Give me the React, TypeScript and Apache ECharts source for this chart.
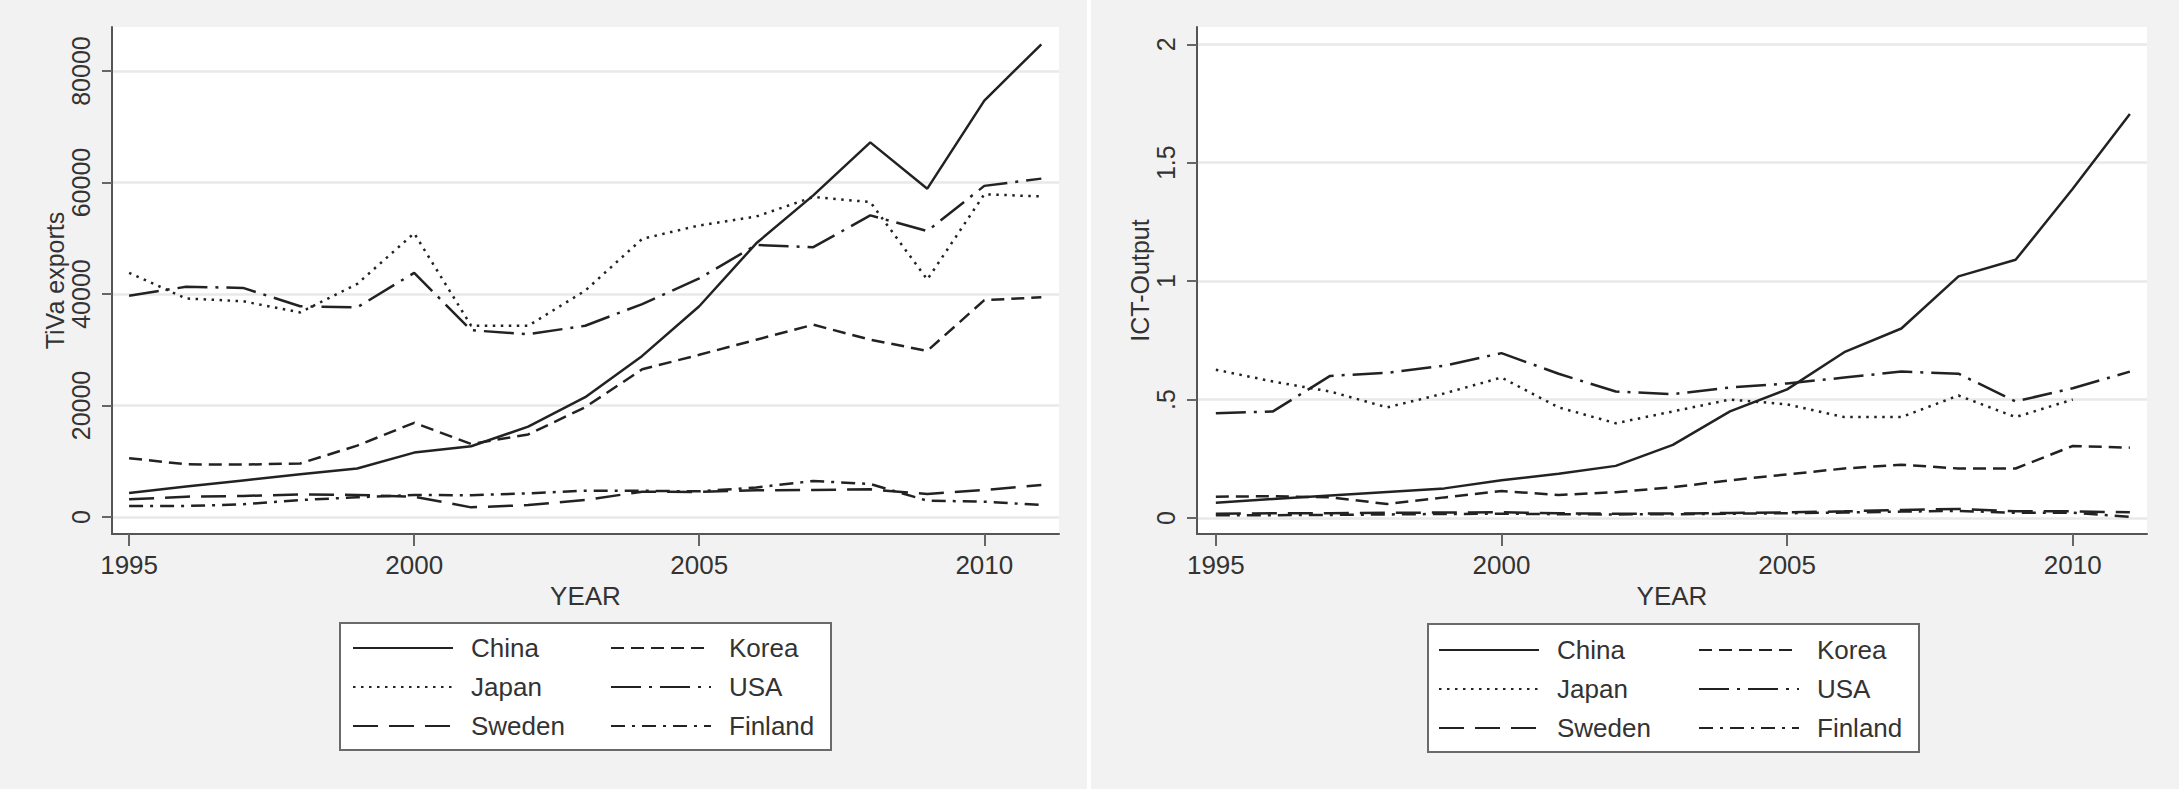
import React, { useEffect, useRef } from "react";
import * as echarts from "echarts";

const years = [1995, 1996, 1997, 1998, 1999, 2000, 2001, 2002, 2003, 2004, 2005, 2006, 2007, 2008, 2009, 2010, 2011];
const countries = ["China", "Korea", "Japan", "USA", "Sweden", "Finland"];

// Panel 1: TiVa exports
const tivaChina = [4300, 5450, 6550, 7650, 8700, 11550, 12700, 16200, 21500, 28900, 37800, 49100, 57700, 67200, 58900, 74700, 84800];
const tivaKorea = [10550, 9450, 9400, 9600, 12800, 16900, 13100, 14800, 19700, 26500, 29100, 31800, 34500, 31800, 29800, 38900, 39400];
const tivaJapan = [43800, 39200, 38700, 36700, 41800, 50900, 34300, 34300, 40600, 49900, 52300, 53900, 57400, 56500, 42600, 57900, 57500];
const tivaUSA = [39700, 41300, 41100, 37800, 37600, 43800, 33500, 32800, 34300, 38200, 42800, 48800, 48400, 54100, 51300, 59400, 60700];
const tivaSweden = [3170, 3650, 3770, 4060, 3950, 3650, 1730, 2150, 3050, 4540, 4500, 4800, 4840, 4960, 4120, 4840, 5740];
const tivaFinland = [1970, 1970, 2270, 3050, 3530, 3950, 3890, 4250, 4720, 4700, 4600, 5300, 6460, 5920, 2930, 2750, 2150];

// Panel 2: ICT-Output
const ictChina = [0.064, 0.08, 0.095, 0.11, 0.125, 0.159, 0.187, 0.22, 0.309, 0.45, 0.543, 0.7, 0.8, 1.02, 1.09, 1.39, 1.706];
const ictKorea = [0.09, 0.092, 0.087, 0.059, 0.087, 0.114, 0.097, 0.109, 0.13, 0.159, 0.184, 0.209, 0.225, 0.209, 0.209, 0.304, 0.297];
const ictJapan = [0.626, 0.576, 0.534, 0.467, 0.526, 0.593, 0.467, 0.4, 0.45, 0.5, 0.48, 0.426, 0.426, 0.517, 0.426, 0.5, null];
const ictUSA = [0.442, 0.45, 0.6, 0.613, 0.643, 0.696, 0.609, 0.534, 0.523, 0.551, 0.568, 0.593, 0.618, 0.609, 0.492, 0.548, 0.618];
const ictSweden = [0.018, 0.02, 0.02, 0.022, 0.023, 0.024, 0.02, 0.018, 0.019, 0.021, 0.024, 0.028, 0.034, 0.038, 0.028, 0.028, 0.024];
const ictFinland = [0.012, 0.012, 0.013, 0.015, 0.017, 0.018, 0.016, 0.015, 0.016, 0.018, 0.02, 0.023, 0.027, 0.03, 0.022, 0.022, 0.005];

const xTicks = [1995, 2000, 2005, 2010];
const leftYTicks = [0, 20000, 40000, 60000, 80000];
const rightYTicks = [0, 0.5, 1, 1.5, 2];
const rightYTickLabels = ["0", ".5", "1", "1.5", "2"];

const FONT = '"Liberation Sans", Arial, Helvetica, sans-serif';
const LINE = "#222";
const TXT = "#333";

const dashes: Record<string, any> = {
  China: "solid",
  Korea: [13, 7],
  Japan: [2.5, 5.5],
  USA: [30, 8, 3, 8],
  Sweden: [25, 11],
  Finland: [14, 7, 3, 7],
};

const panelData: Record<string, (number | null)[]>[] = [
  { China: tivaChina, Korea: tivaKorea, Japan: tivaJapan, USA: tivaUSA, Sweden: tivaSweden, Finland: tivaFinland },
  { China: ictChina, Korea: ictKorea, Japan: ictJapan, USA: ictUSA, Sweden: ictSweden, Finland: ictFinland },
];

export default function App() {
  const ref = useRef<HTMLDivElement>(null);
  useEffect(() => {
    if (!ref.current) return;
    const chart = echarts.init(ref.current, undefined, { renderer: "svg" });

    const series: any[] = [];
    panelData.forEach((pd, p) => {
      countries.forEach((c) => {
        series.push({
          type: "line",
          name: c,
          xAxisIndex: p,
          yAxisIndex: p,
          data: years.map((y, i) => [y, pd[c][i]]),
          symbol: "none",
          showSymbol: false,
          connectNulls: false,
          silent: true,
          z: 3,
          lineStyle: { color: LINE, width: 2.5, type: dashes[c] },
          itemStyle: { color: LINE },
        });
      });
    });

    const xAxisCommon = (grid: number, min: number, max: number) => ({
      type: "value",
      gridIndex: grid,
      min,
      max,
      name: "YEAR",
      nameLocation: "middle",
      nameGap: 46,
      nameTextStyle: { fontSize: 26, color: TXT, fontFamily: FONT },
      axisLine: { show: true, onZero: false, lineStyle: { color: "#555", width: 2 } },
      axisTick: { show: true, length: 12, customValues: xTicks, lineStyle: { color: "#666", width: 2 } },
      axisLabel: { customValues: xTicks, fontSize: 26, color: TXT, fontFamily: FONT, margin: 18, formatter: (v: number) => String(v) },
      splitLine: { show: false },
    });

    const legendCommon = (left: number, top: number, data: string[]) => ({
      orient: "vertical",
      left,
      top,
      padding: 0,
      itemWidth: 100,
      itemHeight: 14,
      itemGap: 13,
      selectedMode: false,
      z: 5,
      data,
      itemStyle: { opacity: 0, borderWidth: 0 },
      textStyle: { fontSize: 26, lineHeight: 26, color: TXT, fontFamily: FONT, padding: [0, 0, 0, 13] },
    });

    chart.setOption({
      animation: false,
      backgroundColor: "#f2f2f2",
      textStyle: { fontFamily: FONT },
      graphic: [
        { type: "rect", shape: { x: 1087, y: 0, width: 4, height: 789 }, style: { fill: "#ffffff" }, silent: true },
        { type: "rect", z: 1, shape: { x: 340, y: 623, width: 491, height: 127 }, style: { fill: "#fff", stroke: "#6a6a6a", lineWidth: 2 }, silent: true },
        { type: "rect", z: 1, shape: { x: 1428, y: 624, width: 491, height: 128 }, style: { fill: "#fff", stroke: "#6a6a6a", lineWidth: 2 }, silent: true },
      ],
      grid: [
        { left: 112, top: 27, width: 947, height: 507, show: true, backgroundColor: "#fff", borderWidth: 0 },
        { left: 1197, top: 27, width: 950, height: 507, show: true, backgroundColor: "#fff", borderWidth: 0 },
      ],
      xAxis: [xAxisCommon(0, 1994.7, 2011.31), xAxisCommon(1, 1994.67, 2011.3)],
      yAxis: [
        {
          type: "value",
          gridIndex: 0,
          min: -3050,
          max: 87900,
          name: "TiVa exports",
          nameLocation: "middle",
          nameGap: 43,
          nameTextStyle: { fontSize: 25, color: TXT, fontFamily: FONT },
          axisLine: { show: true, onZero: false, lineStyle: { color: "#555", width: 2 } },
          axisTick: { show: true, length: 10, customValues: leftYTicks, lineStyle: { color: "#666", width: 2 } },
          axisLabel: { customValues: leftYTicks, rotate: 90, margin: 19, fontSize: 25, color: TXT, fontFamily: FONT, formatter: (v: number) => String(v) },
          splitLine: { show: true, lineStyle: { color: "#e9e9e9", width: 2.5 } },
        },
        {
          type: "value",
          gridIndex: 1,
          min: -0.0676,
          max: 2.073,
          name: "ICT-Output",
          nameLocation: "middle",
          nameGap: 43,
          nameTextStyle: { fontSize: 25, color: TXT, fontFamily: FONT },
          axisLine: { show: true, onZero: false, lineStyle: { color: "#555", width: 2 } },
          axisTick: { show: true, length: 10, customValues: rightYTicks, lineStyle: { color: "#666", width: 2 } },
          axisLabel: {
            customValues: rightYTicks,
            rotate: 90,
            margin: 19,
            fontSize: 25,
            color: TXT,
            fontFamily: FONT,
            formatter: (v: number) => {
              const i = rightYTicks.findIndex((t) => Math.abs(t - v) < 1e-9);
              return i >= 0 ? rightYTickLabels[i] : String(v);
            },
          },
          splitLine: { show: true, lineStyle: { color: "#e9e9e9", width: 2.5 } },
        },
      ],
      legend: [
        legendCommon(352, 635, ["China", "Japan", "Sweden"]),
        legendCommon(610, 635, ["Korea", "USA", "Finland"]),
        legendCommon(1438, 637, ["China", "Japan", "Sweden"]),
        legendCommon(1698, 637, ["Korea", "USA", "Finland"]),
      ],
      series,
    });
    return () => chart.dispose();
  }, []);
  return <div ref={ref} style={{ position: "fixed", left: 0, top: 0, width: 2179, height: 789 }} />;
}
